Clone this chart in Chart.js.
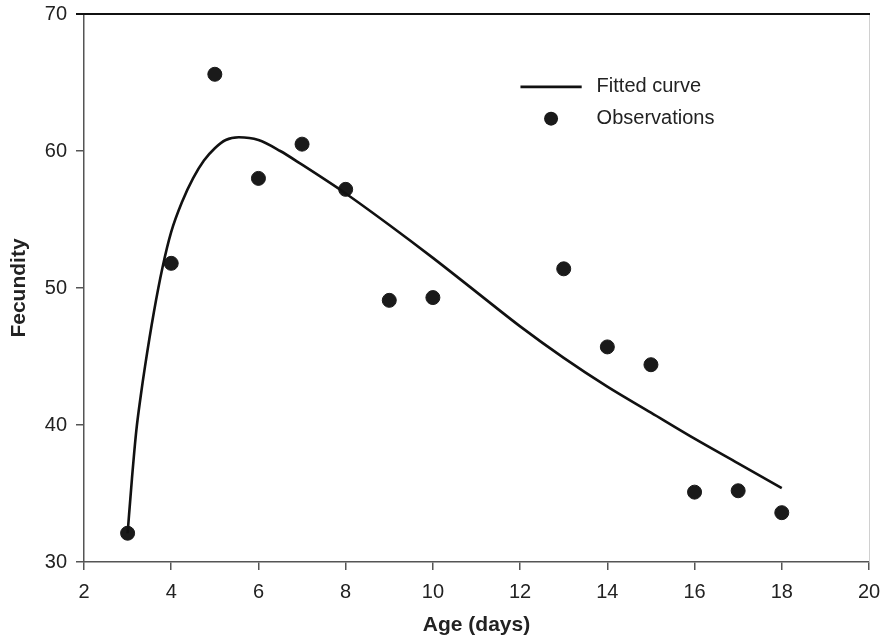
<!DOCTYPE html>
<html>
<head>
<meta charset="utf-8">
<script src="https://cdn.jsdelivr.net/npm/chart.js@4.4.1/dist/chart.umd.min.js"></script>
<style>
  html, body { margin: 0; padding: 0; background: #fff; }
  #wrap { width: 890px; height: 638px; }
</style>
</head>
<body>
<div id="wrap"><canvas id="fec"></canvas></div>
<script>
// observations
const obsAge = [3, 4, 5, 6, 7, 8, 9, 10, 13, 14, 15, 16, 17, 18];
const obsFec = [32.1, 51.8, 65.6, 58.0, 60.5, 57.2, 49.1, 49.3, 51.4, 45.7, 44.4, 35.1, 35.2, 33.6];

// fitted curve, traced points
const fitAge = [3, 3.1, 3.2, 3.3, 3.4, 3.6, 3.8, 4, 4.25, 4.5, 4.75, 5, 5.25, 5.55, 6, 6.5, 7, 8, 9, 10, 11, 12, 13, 14, 15, 16, 17, 18];
const fitFec = [32.1, 36.1, 39.6, 42.1, 44.3, 48.2, 51.5, 54.1, 56.3, 58.0, 59.3, 60.2, 60.8, 61.0, 60.8, 60.0, 59.0, 56.9, 54.6, 52.2, 49.7, 47.2, 44.9, 42.8, 40.9, 39.0, 37.2, 35.4];

const xTicks = [2, 4, 6, 8, 10, 12, 14, 16, 18, 20];
const yTicks = [30, 40, 50, 60, 70];

const FONT = "'Liberation Sans', Arial, sans-serif";
const TXT = '#222';

const frame = {
  id: 'frame',
  afterDraw(chart) {
    const {ctx, chartArea: a} = chart;
    ctx.save();
    ctx.strokeStyle = '#d0d0d0';
    ctx.lineWidth = 1;
    ctx.beginPath();
    ctx.moveTo(a.right + 0.5, a.top);
    ctx.lineTo(a.right + 0.5, a.bottom);
    ctx.stroke();
    ctx.strokeStyle = '#111';
    ctx.lineWidth = 2;
    ctx.beginPath();
    ctx.moveTo(a.left - 8, a.top);
    ctx.lineTo(a.right + 1, a.top);
    ctx.stroke();
    ctx.restore();
  }
};

const legendBox = {
  id: 'legendBox',
  afterDraw(chart) {
    const {ctx, chartArea: a} = chart;
    const w = a.right - a.left, h = a.bottom - a.top;
    const lx = a.left + w * 0.556, tx = a.left + w * 0.653;
    const y1 = a.top + h * 0.133, y2 = a.top + h * 0.191;
    ctx.save();
    ctx.strokeStyle = '#111';
    ctx.lineWidth = 2.6;
    ctx.beginPath();
    ctx.moveTo(lx, y1);
    ctx.lineTo(a.left + w * 0.634, y1);
    ctx.stroke();
    ctx.fillStyle = '#1a1a1a';
    ctx.beginPath();
    ctx.arc(a.left + w * 0.595, y2, 7, 0, Math.PI * 2);
    ctx.fill();
    ctx.fillStyle = TXT;
    ctx.font = '20px ' + FONT;
    ctx.textBaseline = 'middle';
    ctx.fillText('Fitted curve', tx, y1);
    ctx.fillText('Observations', tx, y2);
    ctx.restore();
  }
};

new Chart(document.getElementById('fec'), {
  type: 'scatter',
  data: {
    datasets: [
      {
        label: 'Fitted curve',
        data: fitAge.map((x, i) => ({x: x, y: fitFec[i]})),
        showLine: true,
        borderColor: '#111',
        borderWidth: 2.6,
        pointRadius: 0,
        cubicInterpolationMode: 'monotone',
        fill: false
      },
      {
        label: 'Observations',
        data: obsAge.map((x, i) => ({x: x, y: obsFec[i]})),
        backgroundColor: '#1a1a1a',
        borderColor: '#1a1a1a',
        pointRadius: 7,
        showLine: false
      }
    ]
  },
  options: {
    responsive: true,
    maintainAspectRatio: false,
    animation: false,
    layout: {autoPadding: false, padding: {top: 14, right: 21, left: 0, bottom: 0}},
    plugins: {legend: {display: false}, tooltip: {enabled: false}},
    scales: {
      x: {
        type: 'linear',
        min: 2, max: 20,
        afterFit(s) { s.height = 76; s.paddingLeft = 0; s.paddingRight = 0; },
        afterBuildTicks(s) { s.ticks = xTicks.map(v => ({value: v})); },
        ticks: {color: TXT, font: {family: FONT, size: 20}, padding: 10},
        grid: {drawOnChartArea: false, drawTicks: true, tickLength: 8, color: '#555', lineWidth: 1.5},
        border: {color: '#555', width: 1.5},
        title: {display: true, text: 'Age (days)', color: TXT, font: {family: FONT, size: 21, weight: 'bold'}, padding: {top: 4, bottom: 0}}
      },
      y: {
        min: 30, max: 70,
        afterFit(s) { s.width = 84; s.paddingTop = 0; s.paddingBottom = 0; },
        afterBuildTicks(s) { s.ticks = yTicks.map(v => ({value: v})); },
        ticks: {color: TXT, font: {family: FONT, size: 20}, padding: 9},
        grid: {drawOnChartArea: false, drawTicks: true, tickLength: 8, color: '#555', lineWidth: 1.5},
        border: {color: '#555', width: 1.5},
        title: {display: true, text: 'Fecundity', color: TXT, font: {family: FONT, size: 21, weight: 'bold'}, padding: {top: 7, bottom: 0}}
      }
    }
  },
  plugins: [frame, legendBox]
});
</script>
</body>
</html>
